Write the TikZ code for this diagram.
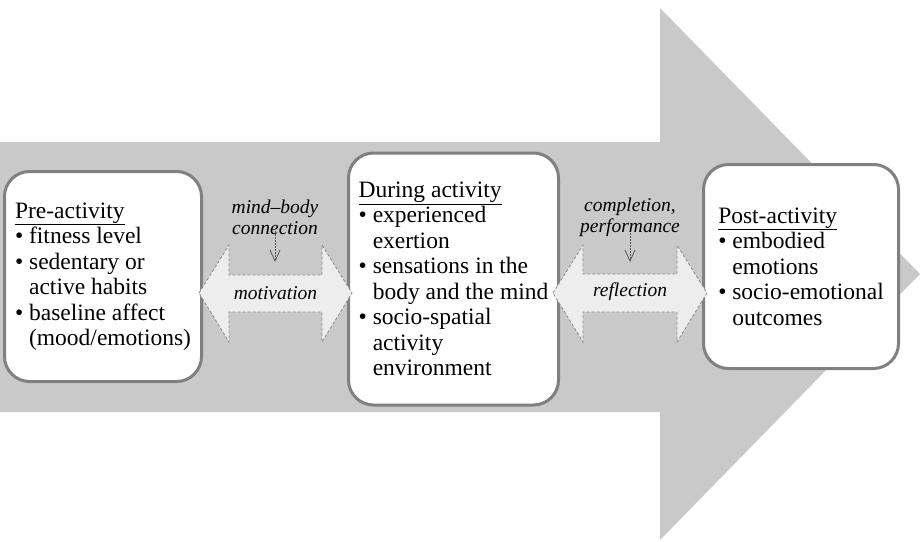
\documentclass[tikz,border=0pt]{standalone}
\usepackage{fontspec}
\setmainfont{Liberation Serif}
\usetikzlibrary{arrows.meta}

\definecolor{arrowgray}{gray}{0.79}
\definecolor{boxline}{gray}{0.50}
\definecolor{flowfill}{gray}{0.93}
\definecolor{flowline}{gray}{0.55}

\newcommand{\itm}{\textbullet\ }
\newcommand{\cnt}{\phantom{\textbullet\ }}

\begin{document}
\begin{tikzpicture}[x=1pt, y=-1pt,
    stagebox/.style={draw=boxline, line width=3pt, fill=white, rounded corners=25pt,
        align=left, font=\fontsize{23.5}{25.5}\selectfont},
    flowarrow/.style={draw=flowline, fill=flowfill, line width=0.8pt, dash pattern=on 3pt off 2pt},
    cuelabel/.style={align=center, inner sep=2pt, font=\fontsize{19.5}{21}\selectfont\itshape},
    cuearrow/.style={draw=black!65, line width=0.7pt, dash pattern=on 1.5pt off 1.5pt,
        shorten <=-6pt, -{Straight Barb[length=11pt, width=10pt, line width=0.8pt]}}]
    \useasboundingbox (0,0) rectangle (920,541);

    % big grey arrow in the back
    \fill[arrowgray] (0,142) -- (660,142) -- (660,8) -- (920,274)
        -- (660,540) -- (660,412) -- (0,412) -- cycle;

    % the three stages
    \node[stagebox, minimum width=197pt, minimum height=210pt] (pre) at (103,276.5)
        {\underline{Pre-activity}\\
         \itm fitness level\\
         \itm sedentary or\\
         \cnt active habits\\
         \itm baseline affect\\
         \cnt (mood/emotions)};
    \node[stagebox, minimum width=210pt, minimum height=252pt] (during) at (453.5,279)
        {\underline{During activity}\\
         \itm experienced\\
         \cnt exertion\\
         \itm sensations in the\\
         \cnt body and the mind\\
         \itm socio-spatial\\
         \cnt activity\\
         \cnt environment};
    \node[stagebox, minimum width=195pt, minimum height=204pt] (post) at (801,266.5)
        {\underline{Post-activity}\\
         \itm embodied\\
         \cnt emotions\\
         \itm socio-emotional\\
         \cnt outcomes};

    % double arrows between the stages
    \draw[flowarrow] (199,293) -- (229,245) -- (229,275) -- (322,275) -- (322,245)
        -- (352,293) -- (322,342) -- (322,312) -- (229,312) -- (229,342) -- cycle;
    \draw[flowarrow] (553,293) -- (583,245) -- (583,274) -- (677,274) -- (677,245)
        -- (707,293) -- (677,342) -- (677,312) -- (583,312) -- (583,342) -- cycle;

    % labels on the arrows
    \node[cuelabel] (motiv) at (275.5,293) {motivation};
    \node[cuelabel] (reflect) at (630,292) {reflection};
    \node[cuelabel] (mindbody) at (275,217.5) {mind--body\\connection};
    \node[cuelabel] (complete) at (630,217.5) {completion,\\performance};

    \coordinate (mindbodyend) at (275,262);
    \coordinate (completeend) at (630,262);
    \draw[cuearrow] (mindbody.south) -- (mindbodyend);
    \draw[cuearrow] (complete.south) -- (completeend);
\end{tikzpicture}
\end{document}
